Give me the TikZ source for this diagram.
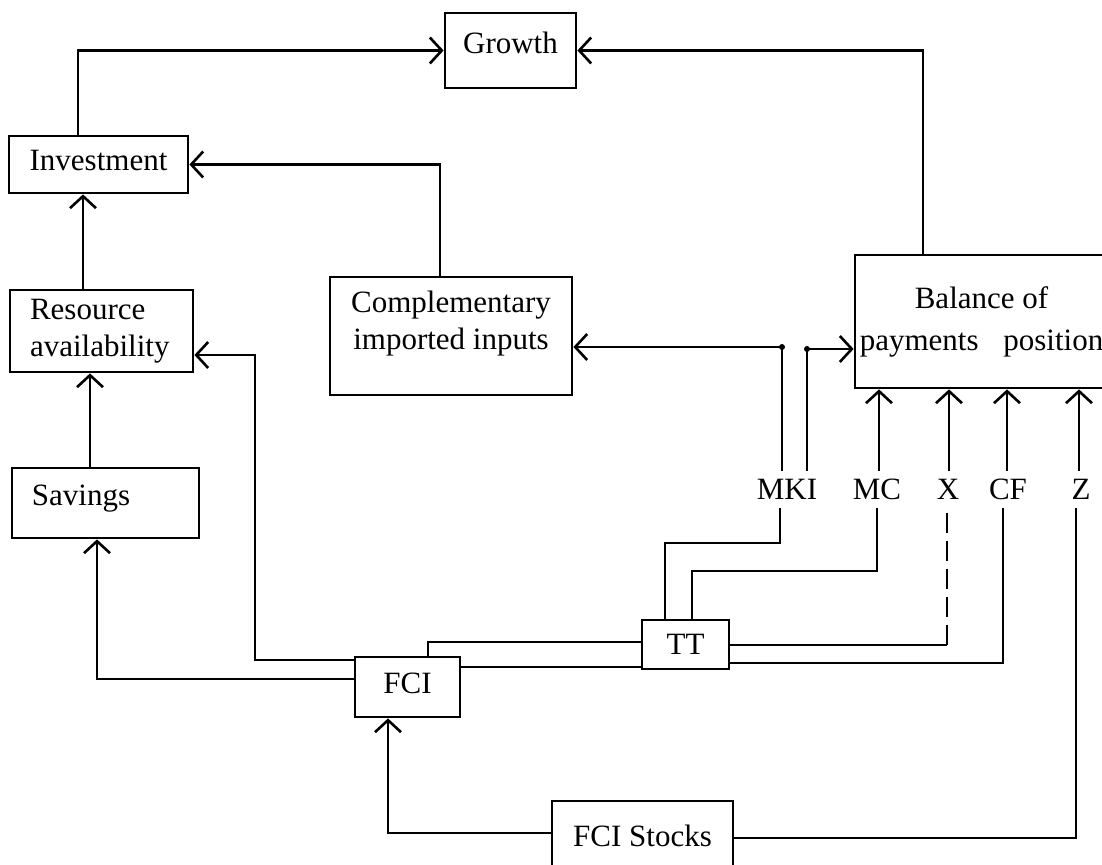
\documentclass[tikz,border=0pt]{standalone}
\usepackage{fontspec}
\setmainfont{Liberation Serif}
\usetikzlibrary{arrows.meta}
\newlength{\du}
\setlength{\du}{0.5pt}
\tikzset{
  txt/.style={font=\fontsize{15.5}{18.5}\selectfont},
  block/.style={txt, draw, line width=1.4pt, fill=white, inner sep=2pt},
  lbl/.style={txt, inner sep=4pt},
  wire/.style={line width=1.3pt},
  flow/.style={wire, -{Straight Barb[length=6pt,width=13pt]}},
}

\begin{document}
\begin{tikzpicture}
\pgftransformyscale{-1.000000}
\useasboundingbox (0\du,0\du) rectangle (1102\du,865\du);
\clip (0\du,0\du) rectangle (1102\du,865\du);
% boxes
\node[block, minimum width=131\du, minimum height=75\du, text depth=7.5pt] (growth) at (510.5\du,50.5\du) {Growth};
\node[block, minimum width=179\du, minimum height=57\du, text depth=4.5pt] (invest) at (98.5\du,164.5\du) {Investment};
\node[block, minimum width=183\du, minimum height=82\du, inner xsep=20\du, text width=143\du, align=left] (resource) at (101.5\du,331\du) {Resource\\availability};
\node[block, minimum width=242\du, minimum height=118\du, align=center, text depth=16pt] (comp) at (451\du,336\du) {Complementary\\imported inputs};
\node[block, minimum width=253\du, minimum height=133\du, align=center] (bop) at (981.5\du,321.5\du) {Balance of\\[2.5pt]payments\hspace{0.8em}position};
\node[block, minimum width=187\du, minimum height=70\du, inner xsep=20\du, text width=147\du, align=left, text depth=8pt] (savings) at (105.5\du,503\du) {Savings};
\node[block, minimum width=105\du, minimum height=60\du, text depth=4pt] (fci) at (407.5\du,687\du) {FCI};
\node[block, minimum width=87\du, minimum height=49\du] (tt) at (685.5\du,644.5\du) {TT};
\node[block, minimum width=181\du, minimum height=80\du, text depth=5pt] (stocks) at (642.5\du,841\du) {FCI Stocks};
% flow labels
\node[lbl] (mki) at (787\du,489.5\du) {MKI};
\node[lbl] (mc) at (877\du,489.5\du) {MC};
\node[lbl] (xlab) at (948\du,489.5\du) {X};
\node[lbl] (cf) at (1008\du,489.5\du) {CF};
\node[lbl] (zlab) at (1081\du,489.5\du) {Z};
\coordinate (xturn) at (947\du,645\du);
% upper loop
\draw[flow] (invest.north -| 78\du,0) |- (growth.west);
\draw[flow] (bop.north -| 923\du,0) |- (growth.east);
\draw[flow] (comp.north -| 440\du,0) |- (invest.east);
\draw[flow] (resource.north -| 83\du,0) -- (invest.south -| 83\du,0);
\draw[flow] (savings.north -| 90\du,0) -- (resource.south -| 90\du,0);
% from FCI
\draw[flow] (fci.west |- 0,679\du) -| (savings.south -| 97\du,0);
\draw[flow] (fci.west |- 0,660\du) -| (255\du,355\du) -- (resource.east |- 0,355\du);
\draw[flow] (stocks.west |- 0,833\du) -| (fci.south -| 388\du,0);
\draw[wire] (fci.north -| 428\du,0) |- (tt.west |- 0,642\du);
\draw[wire] (fci.east |- 0,667\du) -- (tt.west |- 0,667\du);
% from TT to the labels
\draw[wire] (tt.north -| 665\du,0) |- (780\du,543\du) -- (mki.south -| 780\du,0);
\draw[wire] (tt.north -| 692\du,0) |- (877\du,571\du) -- (mc.south -| 877\du,0);
\draw[wire] (tt.east |- xturn) -- (xturn);
\draw[wire, dash pattern=on 10pt off 4pt] (xturn) -- (xlab.south -| xturn);
\draw[wire] (tt.east |- 0,663\du) -| (cf.south -| 1003\du,0);
\draw[wire] (stocks.east |- 0,838\du) -| (zlab.south -| 1076\du,0);
% labels into balance of payments
\draw[flow] (mki.north -| 782\du,0) |- (comp.east |- 0,347\du);
\draw[flow] (mki.north -| 807\du,0) |- (bop.west |- 0,349\du);
\fill (782\du,347\du) circle (3\du);
\fill (807\du,349\du) circle (3\du);
\draw[flow] (mc.north -| 879\du,0) -- (bop.south -| 879\du,0);
\draw[flow] (xlab.north -| 949\du,0) -- (bop.south -| 949\du,0);
\draw[flow] (cf.north -| 1007\du,0) -- (bop.south -| 1007\du,0);
\draw[flow] (zlab.north -| 1079\du,0) -- (bop.south -| 1079\du,0);
\end{tikzpicture}
\end{document}
